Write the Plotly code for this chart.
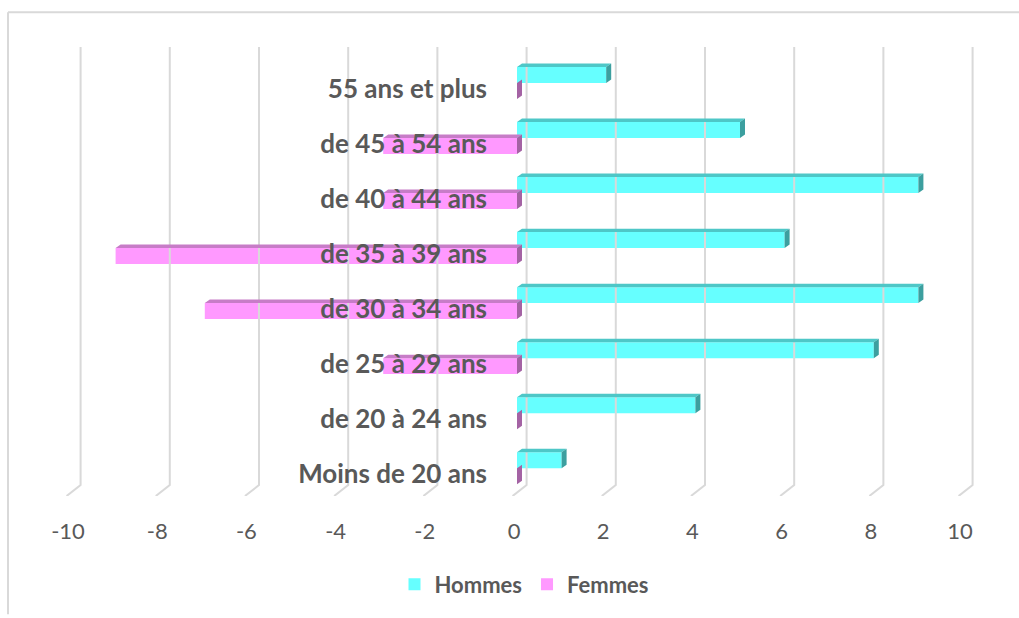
import plotly.graph_objects as go

# ---- data ----
categories = ["Moins de 20 ans", "de 20 à 24 ans", "de 25 à 29 ans", "de 30 à 34 ans",
              "de 35 à 39 ans", "de 40 à 44 ans", "de 45 à 54 ans", "55 ans et plus"]
hommes = [1, 4, 8, 9, 6, 9, 5, 2]
femmes = [0, 0, -3, -7, -9, -3, -3, 0]
x_ticks = [-10, -8, -6, -4, -2, 0, 2, 4, 6, 8, 10]

# ---- styling / geometry ----
TXT = "#595959"
GRID = "#d9d9d9"
H_FRONT, H_TOP, H_SIDE = "#66FFFF", "#4EC7C7", "#3C9F9F"
F_FRONT, F_TOP, F_SIDE = "#FF99FF", "#C77CC7", "#A463A4"
FONT = "Lato"

L, R, T, B = 60, 40, 47, 119
W, H = 1019, 618
pw, ph = W - L - R, H - T - B
ZERO_PX, UNIT_PX = 517, 44.6
X_RANGE = [-(ZERO_PX - L) / UNIT_PX, (W - R - ZERO_PX) / UNIT_PX]
Y_RANGE = [-0.505, 7.653]
BAR_W = 0.29          # bar thickness (category units)
DX, DY = 0.112, 0.063  # 3-D depth offset (data units)
GRID_SHIFT = 0.215     # back wall offset of gridlines
GRID_BOTTOM = -0.307
FOOT_DX = 0.314

pos = list(range(len(categories)))

fig = go.Figure()

# gridlines on the back wall with 3-D floor feet
gx, gy = [], []
for v in x_ticks:
    xb = v + GRID_SHIFT
    gx += [xb, xb, xb - FOOT_DX, None]
    gy += [Y_RANGE[1], GRID_BOTTOM, Y_RANGE[0], None]
fig.add_trace(go.Scatter(x=gx, y=gy, mode="lines", line=dict(color=GRID, width=2),
                         hoverinfo="skip", showlegend=False))


def faces(x0s, x1s, ylo, yhi):
    """top faces and right-end side faces of 3-D bars"""
    tx, ty, sx, sy = [], [], [], []
    for a, b, lo, hi in zip(x0s, x1s, ylo, yhi):
        tx += [a, b, b + DX, a + DX, a, None]
        ty += [hi, hi, hi + DY, hi + DY, hi, None]
        sx += [b, b, b + DX, b + DX, b, None]
        sy += [lo, hi, hi + DY, lo + DY, lo, None]
    return tx, ty, sx, sy


# Femmes (below each category line)
fig.add_trace(go.Bar(name="Femmes", y=pos, x=femmes, orientation="h", base=0,
                     offset=-BAR_W, width=BAR_W, marker=dict(color=F_FRONT, line=dict(width=0)),
                     hoverinfo="skip", legendrank=2))
tx, ty, sx, sy = faces(femmes, [0] * len(femmes), [p - BAR_W for p in pos], pos)
fig.add_trace(go.Scatter(x=tx, y=ty, fill="toself", fillcolor=F_TOP, mode="lines",
                         line=dict(width=0, color=F_TOP), hoverinfo="skip", showlegend=False))
fig.add_trace(go.Scatter(x=sx, y=sy, fill="toself", fillcolor=F_SIDE, mode="lines",
                         line=dict(width=0, color=F_SIDE), hoverinfo="skip", showlegend=False))

# Hommes (above each category line)
fig.add_trace(go.Bar(name="Hommes", y=pos, x=hommes, orientation="h", base=0,
                     offset=0, width=BAR_W, marker=dict(color=H_FRONT, line=dict(width=0)),
                     hoverinfo="skip", legendrank=1))
tx, ty, sx, sy = faces([0] * len(hommes), hommes, pos, [p + BAR_W for p in pos])
fig.add_trace(go.Scatter(x=tx, y=ty, fill="toself", fillcolor=H_TOP, mode="lines",
                         line=dict(width=0, color=H_TOP), hoverinfo="skip", showlegend=False))
fig.add_trace(go.Scatter(x=sx, y=sy, fill="toself", fillcolor=H_SIDE, mode="lines",
                         line=dict(width=0, color=H_SIDE), hoverinfo="skip", showlegend=False))


def px_x(p):
    return (p - L) / pw


def px_y(p):
    return (H - B - p) / ph


fig.update_layout(
    width=W, height=H, autosize=False,
    margin=dict(l=L, r=R, t=T, b=B, pad=0),
    paper_bgcolor="white", plot_bgcolor="white",
    barmode="overlay",
    showlegend=True,
    legend=dict(orientation="h", x=px_x(524), xanchor="center", y=px_y(588), yanchor="middle",
                font=dict(family=FONT, size=22, color=TXT, weight="bold"),
                traceorder="normal", itemwidth=30, bgcolor="rgba(0,0,0,0)"),
    xaxis=dict(range=X_RANGE, tickvals=x_ticks, ticktext=[str(v) for v in x_ticks],
               showgrid=False, zeroline=False, showline=False, ticks="",
               tickfont=dict(family=FONT, size=22, color=TXT),
               ticklabelstandoff=20, ticklabelshift=-3, fixedrange=True),
    yaxis=dict(range=Y_RANGE, tickvals=[p - 0.1 for p in pos], ticktext=categories,
               showgrid=False, zeroline=False, showline=False, ticks="",
               anchor="free", position=px_x(487),
               tickfont=dict(family=FONT, size=26, color=TXT, weight="bold"),
               ticklabelstandoff=0, fixedrange=True),
    shapes=[
        dict(type="line", xref="paper", yref="paper", x0=px_x(8), x1=px_x(1019),
             y0=px_y(12), y1=px_y(12), line=dict(color=GRID, width=2)),
        dict(type="line", xref="paper", yref="paper", x0=px_x(8), x1=px_x(8),
             y0=px_y(12), y1=px_y(618), line=dict(color=GRID, width=2)),
    ],
)

fig.write_html("out.html")
